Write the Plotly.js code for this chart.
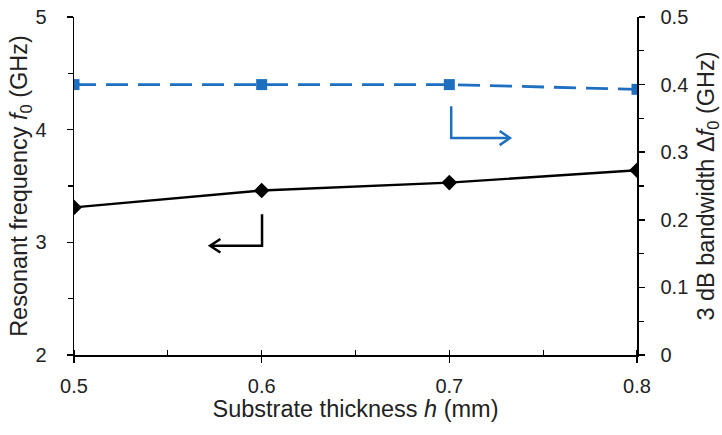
<!DOCTYPE html>
<html><head><meta charset="utf-8">
<script src="https://cdn.plot.ly/plotly-3.0.1.min.js"></script>
<style>html,body{margin:0;padding:0;background:#fff}#chart{width:722px;height:435px}</style>
</head><body><div id="chart"></div>
<script>
const thickness = [0.5, 0.6, 0.7, 0.8];
const resonantFreq = [3.31, 3.46, 3.53, 3.64];
const bandwidth = [0.40, 0.40, 0.40, 0.393];
const xTicks = [0.5, 0.6, 0.7, 0.8];
const yLeftTicks = [2, 3, 4, 5];
const yRightTicks = [0, 0.1, 0.2, 0.3, 0.4, 0.5];

const blue = '#1f6fc0';
const fam = 'Liberation Sans, Arial, sans-serif';
const font = {family: fam, size: 20, color: '#222'};
const titleFont = {family: fam, size: 23.5, color: '#222'};

const traces = [
  {x: thickness, y: resonantFreq, type: 'scatter', mode: 'lines+markers',
   line: {color: '#000', width: 2.4}, marker: {symbol: 'diamond', size: 12, color: '#000'},
   xaxis: 'x', yaxis: 'y', showlegend: false},
  {x: thickness, y: bandwidth, type: 'scatter', mode: 'lines+markers',
   line: {color: blue, width: 2.8, dash: '22px,10px'}, marker: {symbol: 'square', size: 11, color: blue},
   xaxis: 'x', yaxis: 'y2', showlegend: false}
];

// arrow indicators: L-shaped with chevron heads
const blackArrow = {x0: 0.6002, yTop: 3.25, yBot: 2.97, xEnd: 0.5725};
const blueArrow = {x0: 0.701, yTop: 0.368, yBot: 0.321, xEnd: 0.7323};
const hx = 0.0055, hyL = 0.06, hyR = 0.0105;

const shapes = [
  {type: 'path', xref: 'x', yref: 'y',
   path: `M${blackArrow.x0},${blackArrow.yTop} L${blackArrow.x0},${blackArrow.yBot} L${blackArrow.xEnd},${blackArrow.yBot}`,
   line: {color: '#000', width: 2.5}},
  {type: 'path', xref: 'x', yref: 'y',
   path: `M${blackArrow.xEnd + hx},${blackArrow.yBot + hyL} L${blackArrow.xEnd},${blackArrow.yBot} L${blackArrow.xEnd + hx},${blackArrow.yBot - hyL}`,
   line: {color: '#000', width: 2.5}},
  {type: 'path', xref: 'x', yref: 'y2',
   path: `M${blueArrow.x0},${blueArrow.yTop} L${blueArrow.x0},${blueArrow.yBot} L${blueArrow.xEnd},${blueArrow.yBot}`,
   line: {color: blue, width: 2.5}},
  {type: 'path', xref: 'x', yref: 'y2',
   path: `M${blueArrow.xEnd - hx},${blueArrow.yBot + hyR} L${blueArrow.xEnd},${blueArrow.yBot} L${blueArrow.xEnd - hx},${blueArrow.yBot - hyR}`,
   line: {color: blue, width: 2.5}}
];

const layout = {
  width: 722, height: 435,
  margin: {l: 74, r: 85, t: 17, b: 80},
  paper_bgcolor: '#fff', plot_bgcolor: '#fff',
  font: font,
  xaxis: {range: [0.5, 0.8], tickvals: xTicks, ticktext: xTicks.map(v => v.toFixed(1)),
    showgrid: false, zeroline: false, showline: true, linecolor: '#000', linewidth: 1.5,
    ticks: 'outside', ticklen: 6, tickcolor: '#000', tickwidth: 1.5, ticklabelstandoff: 6,
    minor: {dtick: 0.05, tick0: 0.5, ticks: 'inside', ticklen: 5, tickcolor: '#000', tickwidth: 1.2},
    tickfont: font,
    title: {text: 'Substrate thickness <i>h</i> (mm)', font: titleFont, standoff: 5}},
  yaxis: {range: [2, 5], tickvals: yLeftTicks, showgrid: false, zeroline: false,
    showline: true, linecolor: '#000', linewidth: 1.5,
    ticks: 'outside', ticklen: 6, tickcolor: '#000', tickwidth: 1.5, ticklabelstandoff: 16,
    minor: {dtick: 0.5, tick0: 2, ticks: 'outside', ticklen: 5, tickcolor: '#000', tickwidth: 1.2},
    tickfont: font,
    title: {text: 'Resonant frequency <i>f</i><sub>0</sub> (GHz)', font: titleFont, standoff: 0}},
  yaxis2: {range: [0, 0.5], tickvals: yRightTicks, ticktext: yRightTicks.map(v => v === 0 ? '0' : v.toFixed(1)),
    overlaying: 'y', side: 'right', showgrid: false, zeroline: false,
    showline: true, linecolor: '#000', linewidth: 1.5,
    ticks: 'outside', ticklen: 6, tickcolor: '#000', tickwidth: 1.5, ticklabelstandoff: 12,
    minor: {dtick: 0.05, tick0: 0, ticks: 'outside', ticklen: 5, tickcolor: '#000', tickwidth: 1.2},
    tickfont: font,
    title: {text: '3 dB bandwidth Δ<i>f</i><sub>0</sub> (GHz)', font: titleFont, standoff: 11}},
  shapes: shapes
};

Plotly.newPlot('chart', traces, layout, {displayModeBar: false, staticPlot: true});
</script></body></html>
